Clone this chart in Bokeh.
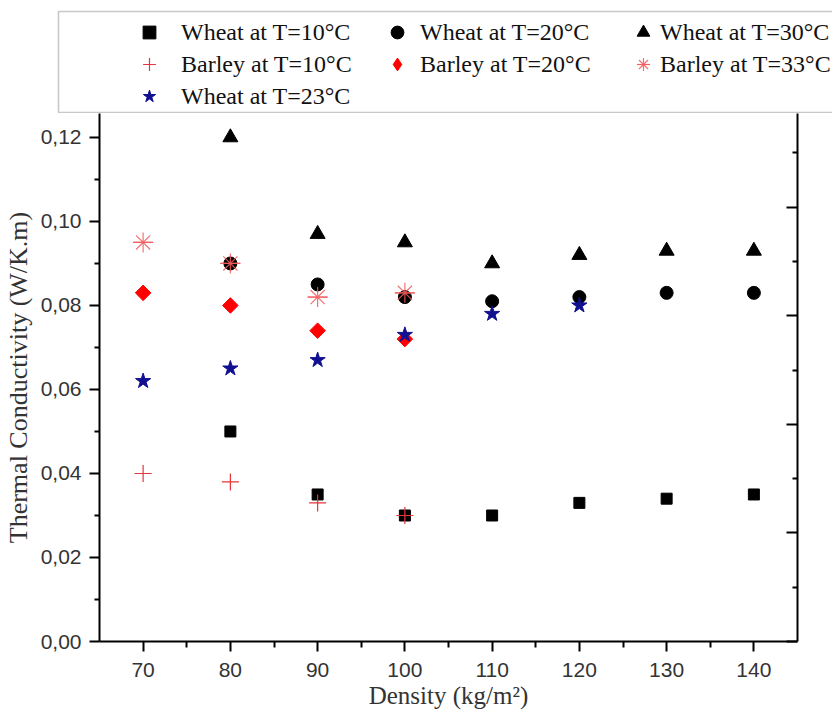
import math

from bokeh.plotting import figure
from bokeh.layouts import column
from bokeh.models import (Range1d, LinearAxis, FixedTicker, CustomJSTickFormatter,
                          Legend, LegendItem, BoxAnnotation)
from bokeh.embed import file_html
from bokeh.resources import INLINE

# Thermal conductivity (W/K.m) against density (kg/m2)
density_wheat = [80, 90, 100, 110, 120, 130, 140]
wheat_10 = [0.050, 0.035, 0.030, 0.030, 0.033, 0.034, 0.035]
wheat_20 = [0.090, 0.085, 0.082, 0.081, 0.082, 0.083, 0.083]
wheat_30 = [0.120, 0.097, 0.095, 0.090, 0.092, 0.093, 0.093]

density_barley = [70, 80, 90, 100]
barley_10 = [0.040, 0.038, 0.033, 0.030]
barley_20 = [0.083, 0.080, 0.074, 0.072]
barley_33 = [0.095, 0.090, 0.082, 0.083]

density_wheat_23 = [70, 80, 90, 100, 110, 120]
wheat_23 = [0.062, 0.065, 0.067, 0.073, 0.078, 0.080]

x_ticks = [70, 80, 90, 100, 110, 120, 130, 140]
x_minor = [75, 85, 95, 105, 115, 125, 135]
y_ticks = [0.0, 0.02, 0.04, 0.06, 0.08, 0.10, 0.12]
y_minor = [0.01, 0.03, 0.05, 0.07, 0.09, 0.11]

labels = ["Wheat at T=10°C", "Wheat at T=20°C", "Wheat at T=30°C",
          "Barley at T=10°C", "Barley at T=20°C", "Barley at T=33°C",
          "Wheat at T=23°C"]

SERIF = "Liberation Serif"
SANS = "Liberation Sans"

# marker styles per series
styles = [
    dict(marker="square", size=11, fill_color="black", line_color="black"),
    dict(marker="circle", size=13, fill_color="black", line_color="black"),
    dict(marker="triangle", size=15, fill_color="black", line_color="black"),
    dict(marker="cross", size=17, line_color="#e8343c", line_width=1.2),
    dict(marker="square", size=11, angle=math.pi / 4, fill_color="#ff0000", line_color="#ff0000"),
    dict(marker="asterisk", size=20, line_color="#f05a5a", line_width=1.2, line_alpha=0.85),
    dict(marker="star", size=16, fill_color="#101090", line_color="#101090"),
]
series = [
    (density_wheat, wheat_10), (density_wheat, wheat_20), (density_wheat, wheat_30),
    (density_barley, barley_10), (density_barley, barley_20), (density_barley, barley_33),
    (density_wheat_23, wheat_23),
]
asterisk_bar = dict(marker="dash", size=20, line_color="#f05a5a", line_width=1.2, line_alpha=0.85)


def add_series(fig, legend_glyphs=False):
    """Draw all seven series on fig; return the renderer lists per series."""
    out = []
    for (xs, ys), st in zip(series, styles):
        st = dict(st)
        if legend_glyphs and "angle" in st:
            # legend swatches ignore angle, so use the upright diamond there
            st.pop("angle")
            st["marker"] = "diamond"
        rs = [fig.scatter(xs, ys, **st)]
        if st["marker"] == "asterisk":
            rs.append(fig.scatter(xs, ys, **asterisk_bar))
        out.append(rs)
    return out


# ---- main plot ----
p = figure(width=832, height=602,
           x_range=Range1d(65, 145), y_range=Range1d(0, 0.1257),
           output_backend="svg", toolbar_location=None,
           min_border_left=98, min_border_right=35,
           min_border_top=0, min_border_bottom=74)
p.frame_align = False
p.outline_line_color = None
p.background_fill_color = "white"
p.border_fill_color = "white"
p.xgrid.visible = False
p.ygrid.visible = False

xa = p.xaxis[0]
xa.ticker = FixedTicker(ticks=x_ticks, minor_ticks=x_minor)
xa.axis_label = "Density (kg/m²)"
xa.axis_label_text_font = SERIF
xa.axis_label_text_font_style = "normal"
xa.axis_label_text_font_size = "25px"
xa.axis_label_text_color = "#333333"
xa.axis_label_standoff = 2
xa.major_label_text_font = SANS
xa.major_label_text_font_size = "21px"
xa.major_label_text_color = "#333333"
xa.major_label_standoff = 11
xa.axis_line_width = 2
xa.axis_line_color = "black"
xa.major_tick_in = 0
xa.major_tick_out = 10
xa.minor_tick_in = 0
xa.minor_tick_out = 6
xa.major_tick_line_width = 2
xa.minor_tick_line_width = 2

ya = p.yaxis[0]
ya.ticker = FixedTicker(ticks=y_ticks, minor_ticks=y_minor)
ya.formatter = CustomJSTickFormatter(code="return tick.toFixed(2).replace('.', ',');")
ya.axis_label = "Thermal Conductivity (W/K.m)"
ya.axis_label_text_font = SERIF
ya.axis_label_text_font_style = "normal"
ya.axis_label_text_font_size = "26px"
ya.axis_label_text_color = "#333333"
ya.axis_label_standoff = 5
ya.major_label_text_font = SANS
ya.major_label_text_font_size = "21px"
ya.major_label_text_color = "#333333"
ya.major_label_standoff = 8
ya.axis_line_width = 2
ya.axis_line_color = "black"
ya.major_tick_in = 0
ya.major_tick_out = 10
ya.minor_tick_in = 0
ya.minor_tick_out = 5
ya.major_tick_line_width = 2
ya.minor_tick_line_width = 2

# right axis: inward ticks, no labels
p.extra_y_ranges = {"right": Range1d(0, 4.862)}
ra = LinearAxis(y_range_name="right",
                ticker=FixedTicker(ticks=[0, 1, 2, 3, 4], minor_ticks=[0.5, 1.5, 2.5, 3.5, 4.5]),
                formatter=CustomJSTickFormatter(code="return '';"))
ra.axis_line_width = 2
ra.axis_line_color = "black"
ra.major_tick_in = 11
ra.major_tick_out = 0
ra.minor_tick_in = 5
ra.minor_tick_out = 0
ra.major_tick_line_width = 2
ra.minor_tick_line_width = 2
p.add_layout(ra, "right")

add_series(p)

# ---- legend strip above the plot ----
lg = figure(width=832, height=113,
            x_range=Range1d(0, 1), y_range=Range1d(0, 1),
            output_backend="svg", toolbar_location=None,
            x_axis_location=None, y_axis_location=None,
            min_border=0)
lg.frame_align = False
lg.outline_line_color = None
lg.xgrid.visible = False
lg.ygrid.visible = False
lg.background_fill_color = "white"
lg.border_fill_color = "white"

# series drawn off-range here; they only feed the legend glyphs
legend_renderers = add_series(lg, legend_glyphs=True)

# frame of the legend block (screen units, y measured up from the strip bottom)
lg.add_layout(BoxAnnotation(left=58, right=900, top=102, bottom=1,
                            left_units="screen", right_units="screen",
                            top_units="screen", bottom_units="screen",
                            fill_alpha=0, line_color="#4a4a4a", line_width=1.6))

# three legend columns: (series indices, x of column, label standoff)
columns = [([0, 3, 6], 133, 16), ([1, 4], 381, 7), ([2, 5], 627, 1)]
for idx, x0, standoff in columns:
    leg = Legend(items=[LegendItem(label=labels[i], renderers=legend_renderers[i]) for i in idx],
                 orientation="vertical", location=(x0, 113 - 16 - 32 * len(idx)))
    leg.padding = 0
    leg.margin = 0
    leg.spacing = 0
    leg.glyph_width = 32
    leg.glyph_height = 32
    leg.label_standoff = standoff
    leg.label_height = 32
    leg.label_text_font = SERIF
    leg.label_text_font_size = "24px"
    leg.label_text_color = "#111111"
    leg.border_line_alpha = 0
    leg.background_fill_alpha = 0
    lg.add_layout(leg)

layout = column(lg, p, spacing=0)
open("out.html", "w").write(file_html(layout, INLINE))
